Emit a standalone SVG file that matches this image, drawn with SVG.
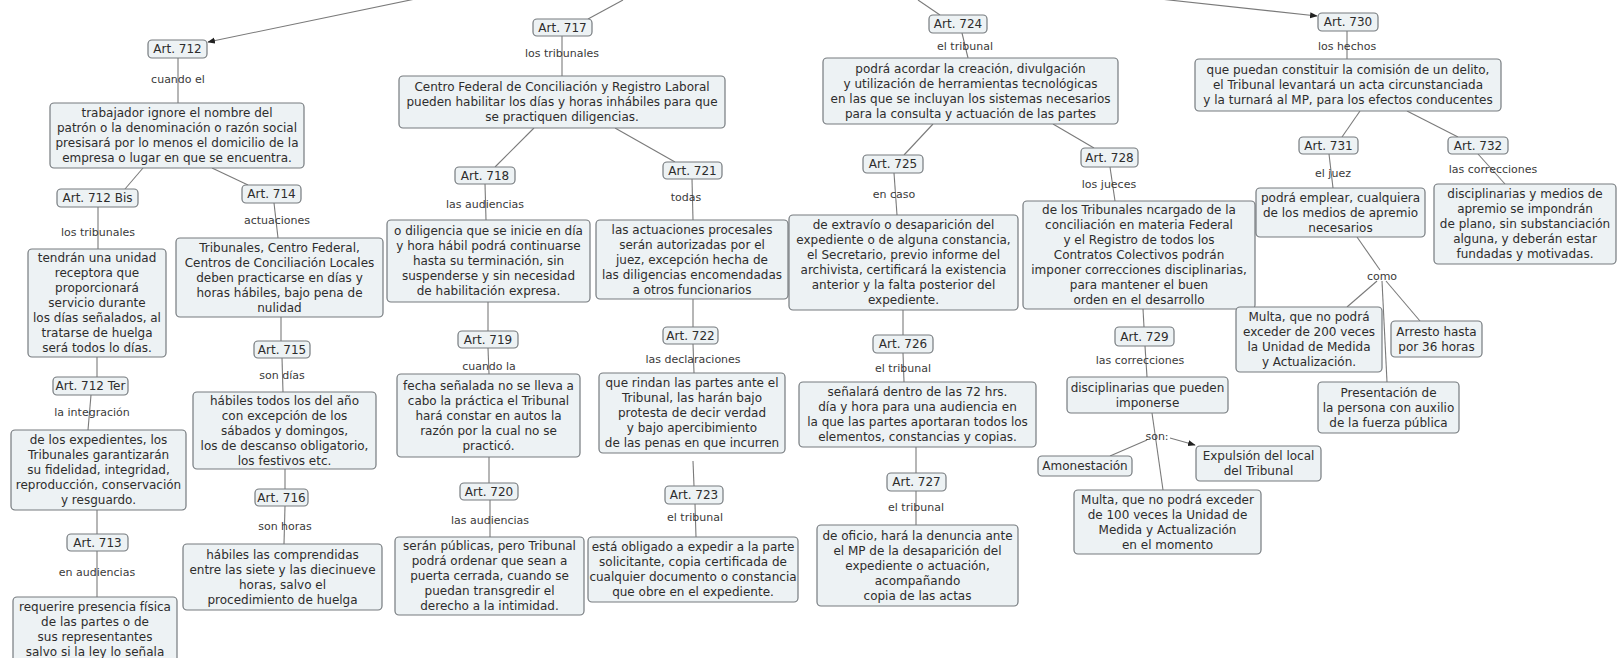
<svg xmlns="http://www.w3.org/2000/svg" width="1620" height="658" viewBox="0 0 1620 658">
<style>
.n rect{fill:#edf2f4;stroke:#767b7f;stroke-width:1.2}
.n text{font-family:"DejaVu Sans",Verdana,sans-serif;font-size:12px;fill:#2d2d2d;text-anchor:middle}
.lb{font-family:"DejaVu Sans",Verdana,sans-serif;font-size:11px;fill:#3a3a3a;text-anchor:middle}
#connectors line{stroke:#7a7a7a;stroke-width:1.1;fill:none}
</style>
<defs>
<marker id="ah" viewBox="0 0 10 10" refX="9" refY="5" markerWidth="7" markerHeight="7" orient="auto"><path d="M0,1 L10,5 L0,9 z" fill="#222"/></marker>
</defs>
<rect width="1620" height="658" fill="#fff"/>
<g id="connectors">
<line x1="420" y1="-2" x2="208" y2="42" marker-end="url(#ah)"/>
<line x1="623" y1="0" x2="588" y2="19"/>
<line x1="918" y1="0" x2="940" y2="15"/>
<line x1="1160" y1="-1" x2="1317" y2="16" marker-end="url(#ah)"/>
<line x1="178" y1="58" x2="178" y2="103"/>
<line x1="143" y1="168" x2="125" y2="189"/>
<line x1="212" y1="168" x2="248" y2="185"/>
<line x1="98" y1="207" x2="98" y2="249"/>
<line x1="274" y1="203" x2="278" y2="238"/>
<line x1="97" y1="357" x2="97" y2="377"/>
<line x1="91" y1="395" x2="88" y2="430"/>
<line x1="281" y1="317" x2="281" y2="341"/>
<line x1="282" y1="358" x2="283" y2="392"/>
<line x1="97" y1="510" x2="97" y2="534"/>
<line x1="97" y1="551" x2="97" y2="597"/>
<line x1="285" y1="469" x2="285" y2="489"/>
<line x1="285" y1="506" x2="284" y2="544"/>
<line x1="562" y1="36" x2="562" y2="76"/>
<line x1="534" y1="128" x2="495" y2="167"/>
<line x1="615" y1="128" x2="675" y2="162"/>
<line x1="485" y1="184" x2="486" y2="220"/>
<line x1="692" y1="179" x2="693" y2="220"/>
<line x1="488" y1="302" x2="488" y2="331"/>
<line x1="693" y1="299" x2="693" y2="327"/>
<line x1="488" y1="348" x2="489" y2="374"/>
<line x1="693" y1="344" x2="694" y2="373"/>
<line x1="489" y1="457" x2="489" y2="483"/>
<line x1="693" y1="461" x2="694" y2="486"/>
<line x1="490" y1="500" x2="490" y2="537"/>
<line x1="695" y1="504" x2="696" y2="537"/>
<line x1="962" y1="33" x2="968" y2="58"/>
<line x1="933" y1="124" x2="904" y2="155"/>
<line x1="1053" y1="124" x2="1094" y2="148"/>
<line x1="894" y1="173" x2="897" y2="215"/>
<line x1="1110" y1="167" x2="1115" y2="201"/>
<line x1="903" y1="310" x2="903" y2="335"/>
<line x1="903" y1="353" x2="904" y2="382"/>
<line x1="916" y1="447" x2="916" y2="473"/>
<line x1="916" y1="491" x2="916" y2="525"/>
<line x1="1143" y1="309" x2="1144" y2="327"/>
<line x1="1145" y1="346" x2="1147" y2="377"/>
<line x1="1152" y1="413" x2="1163" y2="490"/>
<line x1="1147" y1="440" x2="1110" y2="456"/>
<line x1="1170" y1="438" x2="1195" y2="445" marker-end="url(#ah)"/>
<line x1="1347" y1="31" x2="1347" y2="59"/>
<line x1="1360" y1="111" x2="1342" y2="137"/>
<line x1="1407" y1="111" x2="1458" y2="137"/>
<line x1="1329" y1="154" x2="1333" y2="188"/>
<line x1="1478" y1="154" x2="1505" y2="184"/>
<line x1="1357" y1="237" x2="1380" y2="270"/>
<line x1="1377" y1="281" x2="1347" y2="307"/>
<line x1="1386" y1="281" x2="1420" y2="321"/>
<line x1="1382" y1="281" x2="1387" y2="382"/>
</g>
<g id="labels">
<text class="lb" x="178" y="83">cuando el</text>
<text class="lb" x="98" y="236">los tribunales</text>
<text class="lb" x="277" y="224">actuaciones</text>
<text class="lb" x="92" y="416">la integración</text>
<text class="lb" x="282" y="379">son días</text>
<text class="lb" x="97" y="576">en audiencias</text>
<text class="lb" x="285" y="530">son horas</text>
<text class="lb" x="562" y="57">los tribunales</text>
<text class="lb" x="485" y="208">las audiencias</text>
<text class="lb" x="686" y="201">todas</text>
<text class="lb" x="489" y="370">cuando la</text>
<text class="lb" x="693" y="363">las declaraciones</text>
<text class="lb" x="490" y="524">las audiencias</text>
<text class="lb" x="695" y="521">el tribunal</text>
<text class="lb" x="965" y="50">el tribunal</text>
<text class="lb" x="894" y="198">en caso</text>
<text class="lb" x="1109" y="188">los jueces</text>
<text class="lb" x="903" y="372">el tribunal</text>
<text class="lb" x="1140" y="364">las correcciones</text>
<text class="lb" x="916" y="511">el tribunal</text>
<text class="lb" x="1157" y="440">son:</text>
<text class="lb" x="1347" y="50">los hechos</text>
<text class="lb" x="1333" y="177">el juez</text>
<text class="lb" x="1493" y="173">las correcciones</text>
<text class="lb" x="1382" y="280">como</text>
</g>
<g id="art712" class="n"><rect x="148" y="40" width="59" height="18" rx="4"/><text x="177.5" y="53">Art. 712</text></g>
<g id="n712" class="n"><rect x="50" y="103" width="254" height="65" rx="4"/><text x="177" y="117"><tspan x="177">trabajador ignore el nombre del</tspan><tspan x="177" dy="15">patrón o la denominación o razón social</tspan><tspan x="177" dy="15">presisará por lo menos el domicilio de la</tspan><tspan x="177" dy="15">empresa o lugar en que se encuentra.</tspan></text></g>
<g id="art712bis" class="n"><rect x="57" y="189" width="81" height="18" rx="4"/><text x="97.5" y="202">Art. 712 Bis</text></g>
<g id="art714" class="n"><rect x="242" y="185" width="59" height="18" rx="4"/><text x="271.5" y="198">Art. 714</text></g>
<g id="n712bis" class="n"><rect x="28" y="249" width="138" height="108" rx="4"/><text x="97" y="262"><tspan x="97">tendrán una unidad</tspan><tspan x="97" dy="15">receptora que</tspan><tspan x="97" dy="15">proporcionará</tspan><tspan x="97" dy="15">servicio durante</tspan><tspan x="97" dy="15">los días señalados, al</tspan><tspan x="97" dy="15">tratarse de huelga</tspan><tspan x="97" dy="15">será todos lo días.</tspan></text></g>
<g id="n714" class="n"><rect x="176" y="238" width="207" height="79" rx="4"/><text x="279.5" y="251.5"><tspan x="279.5">Tribunales, Centro Federal,</tspan><tspan x="279.5" dy="15">Centros de Conciliación Locales</tspan><tspan x="279.5" dy="15">deben practicarse en días y</tspan><tspan x="279.5" dy="15">horas hábiles, bajo pena de</tspan><tspan x="279.5" dy="15">nulidad</tspan></text></g>
<g id="art712ter" class="n"><rect x="53" y="377" width="75" height="18" rx="4"/><text x="90.5" y="390">Art. 712 Ter</text></g>
<g id="n712ter" class="n"><rect x="11" y="430" width="175" height="80" rx="4"/><text x="98.5" y="444"><tspan x="98.5">de los expedientes, los</tspan><tspan x="98.5" dy="15">Tribunales garantizarán</tspan><tspan x="98.5" dy="15">su fidelidad, integridad,</tspan><tspan x="98.5" dy="15">reproducción, conservación</tspan><tspan x="98.5" dy="15">y resguardo.</tspan></text></g>
<g id="art715" class="n"><rect x="254" y="341" width="56" height="17" rx="4"/><text x="282" y="353.5">Art. 715</text></g>
<g id="n715" class="n"><rect x="193" y="392" width="183" height="77" rx="4"/><text x="284.5" y="404.5"><tspan x="284.5">hábiles todos los del año</tspan><tspan x="284.5" dy="15">con excepción de los</tspan><tspan x="284.5" dy="15">sábados  y domingos,</tspan><tspan x="284.5" dy="15">los de descanso obligatorio,</tspan><tspan x="284.5" dy="15">los festivos etc.</tspan></text></g>
<g id="art713" class="n"><rect x="67" y="534" width="61" height="17" rx="4"/><text x="97.5" y="546.5">Art. 713</text></g>
<g id="n713" class="n"><rect x="13" y="597" width="164" height="72" rx="4"/><text x="95" y="611"><tspan x="95">requerire presencia física</tspan><tspan x="95" dy="15">de las partes o de</tspan><tspan x="95" dy="15">sus representantes</tspan><tspan x="95" dy="15">salvo si la ley lo señala</tspan></text></g>
<g id="art716" class="n"><rect x="255" y="489" width="53" height="17" rx="4"/><text x="281.5" y="501.5">Art. 716</text></g>
<g id="n716" class="n"><rect x="183" y="544" width="199" height="66" rx="4"/><text x="282.5" y="558.5"><tspan x="282.5">hábiles las comprendidas</tspan><tspan x="282.5" dy="15">entre las siete y las diecinueve</tspan><tspan x="282.5" dy="15">horas, salvo el</tspan><tspan x="282.5" dy="15">procedimiento de huelga</tspan></text></g>
<g id="art717" class="n"><rect x="533" y="19" width="59" height="17" rx="4"/><text x="562.5" y="31.5">Art. 717</text></g>
<g id="n717" class="n"><rect x="399" y="76" width="326" height="52" rx="4"/><text x="562" y="91"><tspan x="562">Centro Federal de Conciliación y Registro Laboral</tspan><tspan x="562" dy="15">pueden habilitar los días y horas inhábiles para que</tspan><tspan x="562" dy="15">se practiquen diligencias.</tspan></text></g>
<g id="art718" class="n"><rect x="455" y="167" width="60" height="17" rx="4"/><text x="485" y="179.5">Art. 718</text></g>
<g id="art721" class="n"><rect x="663" y="162" width="59" height="17" rx="4"/><text x="692.5" y="174.5">Art. 721</text></g>
<g id="n718" class="n"><rect x="387" y="220" width="203" height="82" rx="4"/><text x="488.5" y="235"><tspan x="488.5">o diligencia que se inicie en día</tspan><tspan x="488.5" dy="15">y hora hábil podrá continuarse</tspan><tspan x="488.5" dy="15">hasta su terminación, sin</tspan><tspan x="488.5" dy="15">suspenderse y sin necesidad</tspan><tspan x="488.5" dy="15">de habilitación expresa.</tspan></text></g>
<g id="n721" class="n"><rect x="596" y="220" width="192" height="79" rx="4"/><text x="692" y="233.5"><tspan x="692">las actuaciones procesales</tspan><tspan x="692" dy="15">serán autorizadas por el</tspan><tspan x="692" dy="15">juez, excepción hecha de</tspan><tspan x="692" dy="15">las diligencias encomendadas</tspan><tspan x="692" dy="15">a otros funcionarios</tspan></text></g>
<g id="art719" class="n"><rect x="458" y="331" width="60" height="17" rx="4"/><text x="488" y="343.5">Art. 719</text></g>
<g id="art722" class="n"><rect x="663" y="327" width="55" height="17" rx="4"/><text x="690.5" y="339.5">Art. 722</text></g>
<g id="n719" class="n"><rect x="397" y="374" width="183" height="83" rx="4"/><text x="488.5" y="389.5"><tspan x="488.5">fecha señalada no se lleva a</tspan><tspan x="488.5" dy="15">cabo la práctica el Tribunal</tspan><tspan x="488.5" dy="15">hará constar en autos la</tspan><tspan x="488.5" dy="15">razón por la cual no se</tspan><tspan x="488.5" dy="15">practicó.</tspan></text></g>
<g id="n722" class="n"><rect x="599" y="373" width="186" height="80" rx="4"/><text x="692" y="387"><tspan x="692">que rindan las partes ante el</tspan><tspan x="692" dy="15">Tribunal, las harán bajo</tspan><tspan x="692" dy="15">protesta de decir verdad</tspan><tspan x="692" dy="15">y bajo apercibimiento</tspan><tspan x="692" dy="15">de las penas en que incurren</tspan></text></g>
<g id="art720" class="n"><rect x="460" y="483" width="58" height="17" rx="4"/><text x="489" y="495.5">Art. 720</text></g>
<g id="n720" class="n"><rect x="395" y="537" width="189" height="78" rx="4"/><text x="489.5" y="550"><tspan x="489.5">serán públicas, pero Tribunal</tspan><tspan x="489.5" dy="15">podrá ordenar que sean a</tspan><tspan x="489.5" dy="15">puerta cerrada, cuando se</tspan><tspan x="489.5" dy="15">puedan transgredir el</tspan><tspan x="489.5" dy="15">derecho a la intimidad.</tspan></text></g>
<g id="art723" class="n"><rect x="665" y="486" width="58" height="18" rx="4"/><text x="694" y="499">Art. 723</text></g>
<g id="n723" class="n"><rect x="588" y="537" width="210" height="65" rx="4"/><text x="693" y="551"><tspan x="693">está obligado a expedir a la parte</tspan><tspan x="693" dy="15">solicitante, copia certificada de</tspan><tspan x="693" dy="15">cualquier documento o constancia</tspan><tspan x="693" dy="15">que obre en el expediente.</tspan></text></g>
<g id="art724" class="n"><rect x="929" y="15" width="58" height="18" rx="4"/><text x="958" y="28">Art. 724</text></g>
<g id="n724" class="n"><rect x="823" y="58" width="295" height="66" rx="4"/><text x="970.5" y="72.5"><tspan x="970.5">podrá acordar la creación, divulgación</tspan><tspan x="970.5" dy="15">y utilización de herramientas tecnológicas</tspan><tspan x="970.5" dy="15">en las que se incluyan los sistemas necesarios</tspan><tspan x="970.5" dy="15">para la consulta y actuación de las partes</tspan></text></g>
<g id="art725" class="n"><rect x="863" y="155" width="60" height="18" rx="4"/><text x="893" y="168">Art. 725</text></g>
<g id="art728" class="n"><rect x="1081" y="148" width="57" height="19" rx="4"/><text x="1109.5" y="161.5">Art. 728</text></g>
<g id="n725" class="n"><rect x="789" y="215" width="229" height="95" rx="4"/><text x="903.5" y="229"><tspan x="903.5">de extravío o desaparición del</tspan><tspan x="903.5" dy="15">expediente o de alguna constancia,</tspan><tspan x="903.5" dy="15">el Secretario, previo informe del</tspan><tspan x="903.5" dy="15">archivista, certificará la existencia</tspan><tspan x="903.5" dy="15">anterior y la falta posterior del</tspan><tspan x="903.5" dy="15">expediente.</tspan></text></g>
<g id="n728" class="n"><rect x="1023" y="201" width="232" height="108" rx="4"/><text x="1139" y="214"><tspan x="1139">de los Tribunales ncargado de la</tspan><tspan x="1139" dy="15">conciliación en materia Federal</tspan><tspan x="1139" dy="15">y el Registro de todos los</tspan><tspan x="1139" dy="15">Contratos Colectivos podrán</tspan><tspan x="1139" dy="15">imponer correcciones disciplinarias,</tspan><tspan x="1139" dy="15">para mantener el buen</tspan><tspan x="1139" dy="15">orden en el desarrollo</tspan></text></g>
<g id="art726" class="n"><rect x="873" y="335" width="60" height="18" rx="4"/><text x="903" y="348">Art. 726</text></g>
<g id="n726" class="n"><rect x="799" y="382" width="237" height="65" rx="4"/><text x="917.5" y="396"><tspan x="917.5">señalará dentro de las 72 hrs.</tspan><tspan x="917.5" dy="15">día y hora para una audiencia en</tspan><tspan x="917.5" dy="15">la que las partes aportaran todos los</tspan><tspan x="917.5" dy="15">elementos, constancias y copias.</tspan></text></g>
<g id="art727" class="n"><rect x="887" y="473" width="59" height="18" rx="4"/><text x="916.5" y="486">Art. 727</text></g>
<g id="n727" class="n"><rect x="817" y="525" width="201" height="81" rx="4"/><text x="917.5" y="539.5"><tspan x="917.5">de oficio, hará la denuncia ante</tspan><tspan x="917.5" dy="15">el MP de la desaparición del</tspan><tspan x="917.5" dy="15">expediente o actuación,</tspan><tspan x="917.5" dy="15">acompañando</tspan><tspan x="917.5" dy="15">copia de las actas</tspan></text></g>
<g id="art729" class="n"><rect x="1115" y="327" width="59" height="19" rx="4"/><text x="1144.5" y="340.5">Art. 729</text></g>
<g id="n729" class="n"><rect x="1067" y="377" width="161" height="36" rx="4"/><text x="1147.5" y="391.5"><tspan x="1147.5">disciplinarias que pueden</tspan><tspan x="1147.5" dy="15">imponerse</tspan></text></g>
<g id="amonestacion" class="n"><rect x="1038" y="456" width="94" height="20" rx="4"/><text x="1085" y="470">Amonestación</text></g>
<g id="expulsion" class="n"><rect x="1196" y="446" width="125" height="35" rx="4"/><text x="1258.5" y="460"><tspan x="1258.5">Expulsión del local</tspan><tspan x="1258.5" dy="15">del Tribunal</tspan></text></g>
<g id="multa100" class="n"><rect x="1074" y="490" width="187" height="64" rx="4"/><text x="1167.5" y="503.5"><tspan x="1167.5">Multa, que no podrá exceder</tspan><tspan x="1167.5" dy="15">de 100 veces la Unidad de</tspan><tspan x="1167.5" dy="15">Medida y Actualización</tspan><tspan x="1167.5" dy="15">en el momento</tspan></text></g>
<g id="art730" class="n"><rect x="1318" y="13" width="60" height="18" rx="4"/><text x="1348" y="26">Art. 730</text></g>
<g id="n730" class="n"><rect x="1195" y="59" width="306" height="52" rx="4"/><text x="1348" y="74"><tspan x="1348">que puedan constituir la comisión de un delito,</tspan><tspan x="1348" dy="15">el Tribunal levantará un acta circunstanciada</tspan><tspan x="1348" dy="15">y la turnará al MP, para los efectos conducentes</tspan></text></g>
<g id="art731" class="n"><rect x="1299" y="137" width="59" height="17" rx="4"/><text x="1328.5" y="149.5">Art. 731</text></g>
<g id="art732" class="n"><rect x="1448" y="137" width="60" height="17" rx="4"/><text x="1478" y="149.5">Art. 732</text></g>
<g id="n731" class="n"><rect x="1256" y="188" width="169" height="49" rx="4"/><text x="1340.5" y="201.5"><tspan x="1340.5">podrá emplear, cualquiera</tspan><tspan x="1340.5" dy="15">de los medios de apremio</tspan><tspan x="1340.5" dy="15">necesarios</tspan></text></g>
<g id="n732" class="n"><rect x="1434" y="184" width="182" height="80" rx="4"/><text x="1525" y="198"><tspan x="1525">disciplinarias y medios de</tspan><tspan x="1525" dy="15">apremio se impondrán</tspan><tspan x="1525" dy="15">de plano, sin substanciación</tspan><tspan x="1525" dy="15">alguna, y deberán estar</tspan><tspan x="1525" dy="15">fundadas y motivadas.</tspan></text></g>
<g id="multa200" class="n"><rect x="1236" y="307" width="146" height="65" rx="4"/><text x="1309" y="321"><tspan x="1309">Multa, que no podrá</tspan><tspan x="1309" dy="15">exceder de 200 veces</tspan><tspan x="1309" dy="15">la Unidad de Medida</tspan><tspan x="1309" dy="15">y Actualización.</tspan></text></g>
<g id="arresto" class="n"><rect x="1391" y="321" width="91" height="36" rx="4"/><text x="1436.5" y="335.5"><tspan x="1436.5">Arresto hasta</tspan><tspan x="1436.5" dy="15">por 36 horas</tspan></text></g>
<g id="presentacion" class="n"><rect x="1318" y="382" width="141" height="51" rx="4"/><text x="1388.5" y="396.5"><tspan x="1388.5">Presentación de</tspan><tspan x="1388.5" dy="15">la persona con auxilio</tspan><tspan x="1388.5" dy="15">de la fuerza pública</tspan></text></g>
</svg>
